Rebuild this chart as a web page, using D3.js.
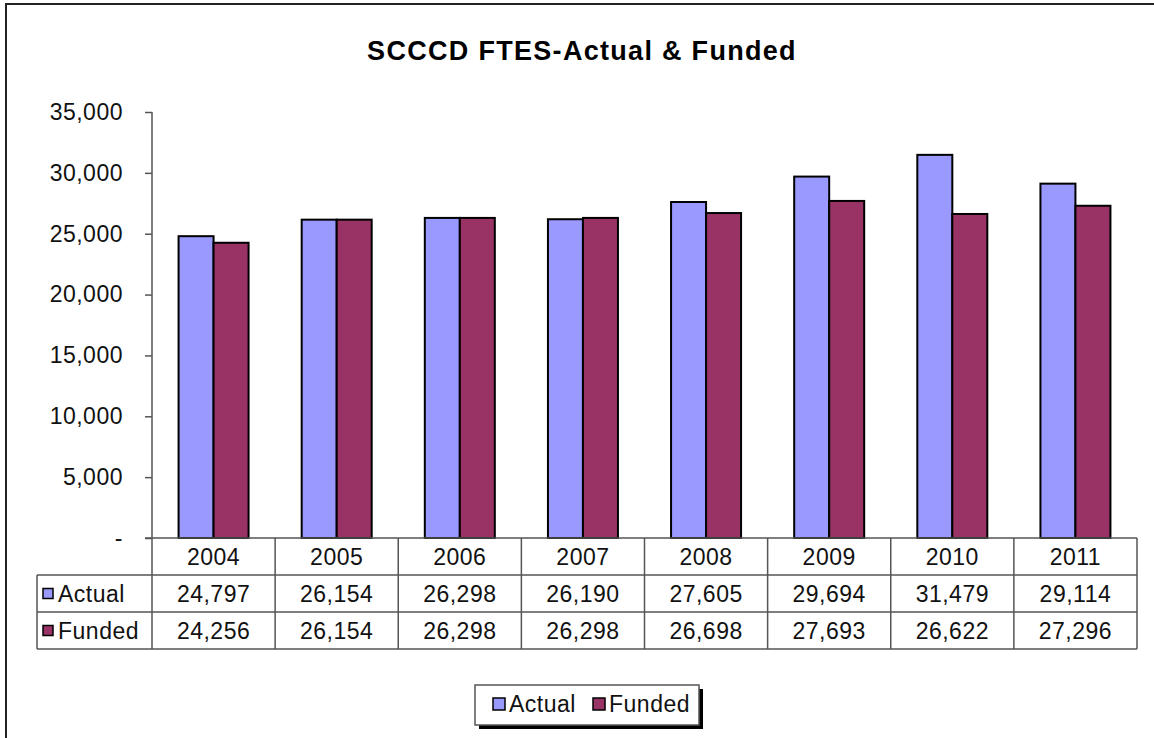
<!DOCTYPE html>
<html>
<head>
<meta charset="utf-8">
<script src="https://cdn.jsdelivr.net/npm/d3@7.9.0/dist/d3.min.js"></script>
<style>
  body { margin: 0; background: #fff; }
  svg { display: block; font-family: "Liberation Sans", Arial, sans-serif; }
</style>
</head>
<body>
<svg id="chart" width="1154" height="738"></svg>
<script>
const years = ['2004', '2005', '2006', '2007', '2008', '2009', '2010', '2011'];
const actual = [24797, 26154, 26298, 26190, 27605, 29694, 31479, 29114];
const funded = [24256, 26154, 26298, 26298, 26698, 27693, 26622, 27296];
const yTicks = [0, 5000, 10000, 15000, 20000, 25000, 30000, 35000];

const series = [
  { name: 'Actual', values: actual, color: '#9999ff' },
  { name: 'Funded', values: funded, color: '#993366' },
];

const svg = d3.select('#chart');
const fmt = d3.format(',');

// outer frame
svg.append('rect').attr('x', 6).attr('y', 4).attr('width', 1160).attr('height', 745)
  .attr('fill', 'none').attr('stroke', '#222').attr('stroke-width', 2);

svg.append('text').attr('x', 582).attr('y', 60).attr('text-anchor', 'middle')
  .attr('font-size', 27).attr('font-weight', 'bold').attr('letter-spacing', 1.3)
  .text('SCCCD FTES-Actual & Funded');

const plotLeft = 152, plotRight = 1137, plotTop = 112, zeroY = 538;
const rowH = 37;

const x = d3.scaleBand().domain(years).range([plotLeft, plotRight]);
const xs = d3.scaleBand().domain(series.map(s => s.name)).range([0, 70]);
const y = d3.scaleLinear().domain([0, 35000]).range([zeroY, plotTop]);

// y axis
const yAxis = svg.append('g').attr('transform', `translate(${plotLeft},0)`)
  .call(d3.axisLeft(y).tickValues(yTicks).tickSize(7).tickPadding(22)
    .tickFormat(d => d === 0 ? '-' : fmt(d)));
yAxis.select('.domain').remove();
yAxis.selectAll('line').attr('stroke', '#555').attr('stroke-width', 1.5);
yAxis.selectAll('text').attr('font-size', 23).attr('font-family', '"Liberation Sans", Arial, sans-serif')
  .attr('letter-spacing', 0.5).attr('fill', '#111');
svg.append('line').attr('x1', plotLeft).attr('x2', plotLeft).attr('y1', plotTop).attr('y2', zeroY + 3 * rowH)
  .attr('stroke', '#555').attr('stroke-width', 1.5);

// bars
series.forEach(s => {
  svg.append('g').selectAll('rect').data(years).join('rect')
    .attr('x', d => x(d) + (x.bandwidth() - 70) / 2 + xs(s.name))
    .attr('y', (d, i) => y(s.values[i]))
    .attr('width', xs.bandwidth())
    .attr('height', (d, i) => zeroY - y(s.values[i]))
    .attr('fill', s.color).attr('stroke', '#000').attr('stroke-width', 2);
});

// data table
const grid = svg.append('g').attr('stroke', '#555').attr('stroke-width', 1.5);
grid.append('line').attr('x1', plotLeft - 7).attr('x2', plotRight).attr('y1', zeroY).attr('y2', zeroY);
[1, 2, 3].forEach(r => {
  grid.append('line').attr('x1', 37).attr('x2', plotRight)
    .attr('y1', zeroY + r * rowH).attr('y2', zeroY + r * rowH);
});
grid.append('line').attr('x1', 37).attr('x2', 37).attr('y1', zeroY + rowH).attr('y2', zeroY + 3 * rowH);
years.forEach(yr => {
  grid.append('line').attr('x1', x(yr) + x.bandwidth()).attr('x2', x(yr) + x.bandwidth())
    .attr('y1', zeroY).attr('y2', zeroY + 3 * rowH);
});

svg.append('g').selectAll('text').data(years).join('text')
  .attr('x', d => x(d) + x.bandwidth() / 2).attr('y', zeroY + rowH / 2 + 8)
  .attr('text-anchor', 'middle').attr('font-size', 23).attr('letter-spacing', 0.5)
  .attr('fill', '#111').text(d => d);

series.forEach((s, r) => {
  const cy = zeroY + (r + 1) * rowH + rowH / 2;
  svg.append('rect').attr('x', 43).attr('y', cy - 5).attr('width', 10).attr('height', 10)
    .attr('fill', s.color).attr('stroke', '#000').attr('stroke-width', 1.5);
  svg.append('text').attr('x', 58).attr('y', cy + 8).attr('font-size', 23).attr('letter-spacing', 0.5)
    .attr('fill', '#111').text(s.name);
  svg.append('g').selectAll('text').data(years).join('text')
    .attr('x', d => x(d) + x.bandwidth() / 2).attr('y', cy + 8)
    .attr('text-anchor', 'middle').attr('font-size', 23).attr('letter-spacing', 0.5).attr('fill', '#111')
    .text((d, i) => fmt(s.values[i]));
});

// legend
const lg = svg.append('g');
lg.append('rect').attr('x', 479).attr('y', 689).attr('width', 224).attr('height', 40).attr('fill', '#000');
lg.append('rect').attr('x', 475).attr('y', 685).attr('width', 224).attr('height', 40)
  .attr('fill', '#fff').attr('stroke', '#555').attr('stroke-width', 1.5);
const legendX = [493, 593];
series.forEach((s, i) => {
  lg.append('rect').attr('x', legendX[i]).attr('y', 698).attr('width', 12).attr('height', 12)
    .attr('fill', s.color).attr('stroke', '#000').attr('stroke-width', 1.5);
  lg.append('text').attr('x', legendX[i] + 16).attr('y', 712).attr('font-size', 23).attr('letter-spacing', 0.5)
    .attr('fill', '#111').text(s.name);
});
</script>
</body>
</html>
